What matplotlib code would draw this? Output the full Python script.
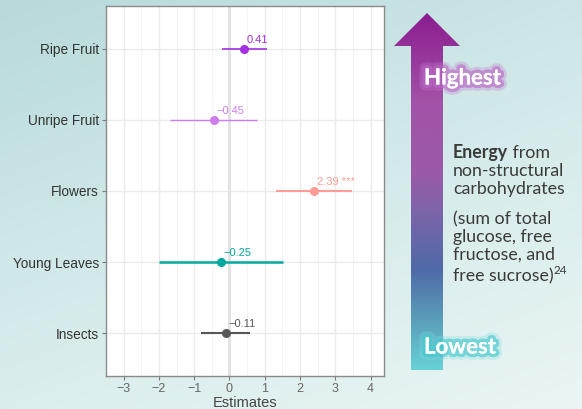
import numpy as np
import matplotlib.pyplot as plt
from matplotlib.colors import LinearSegmentedColormap
from matplotlib.patches import Polygon
import matplotlib.patheffects as pe

categories = ["Insects", "Young Leaves", "Flowers", "Unripe Fruit", "Ripe Fruit"]
estimates = [-0.11, -0.25, 2.39, -0.45, 0.41]
ci_low = [-0.80, -2.00, 1.32, -1.69, -0.22]
ci_high = [0.58, 1.51, 3.47, 0.77, 1.05]
value_labels = ["\u22120.11", "\u22120.25", "2.39 ***", "\u22120.45", "0.41"]
colors = ["#575757", "#00a99d", "#ff9c96", "#cc7ef0", "#a32fe0"]
line_widths = [1.5, 1.8, 1.5, 1.0, 1.2]
xticks = [-3, -2, -1, 0, 1, 2, 3, 4]

W, H = 582, 409
fig = plt.figure(figsize=(W / 100, H / 100), dpi=100)

# background with gradient
bg = fig.add_axes([0, 0, 1, 1], zorder=-1)
bg.set_xlim(0, W)
bg.set_ylim(H, 0)
bg.axis("off")
yy, xx = np.mgrid[0:1:200j, 0:1:200j]
grad = 0.65 * yy + 0.35 * xx
bg_cmap = LinearSegmentedColormap.from_list("bg", ["#b8dada", "#d4eaea", "#ebf5f5"])
bg.imshow(grad, cmap=bg_cmap, extent=[0, W, H, 0], aspect="auto")

# arrow
arrow_pts = [(411, 370), (411, 46), (394, 46), (427, 13), (460, 46), (443, 46), (443, 370)]
arrow = Polygon(arrow_pts, closed=True, facecolor="none", edgecolor="none")
bg.add_patch(arrow)
arrow_cmap = LinearSegmentedColormap.from_list(
    "arrow",
    [(0.0, "#8a1d8f"), (0.25, "#a352a8"), (0.45, "#9a5aa8"), (0.55, "#7e64a8"),
     (0.72, "#4f6aa8"), (0.85, "#5a9ab8"), (1.0, "#66d2d6")])
ag = np.linspace(0, 1, 256).reshape(-1, 1)
im = bg.imshow(ag, cmap=arrow_cmap, extent=[394, 460, 370, 13], aspect="auto")
im.set_clip_path(arrow)

glow_p = [pe.withStroke(linewidth=9, foreground="#c57ad0", alpha=0.3),
          pe.withStroke(linewidth=5, foreground="#b868c4", alpha=0.6), pe.Normal()]
glow_t = [pe.withStroke(linewidth=9, foreground="#7fdde0", alpha=0.3),
          pe.withStroke(linewidth=5, foreground="#40c8cc", alpha=0.6), pe.Normal()]
bg.text(424, 78, "Highest", color="white", fontsize=16, fontweight="bold",
        family="Lato", ha="left", va="center", path_effects=glow_p)
bg.text(424, 347, "Lowest", color="white", fontsize=16, fontweight="bold",
        family="Lato", ha="left", va="center", path_effects=glow_t)

tc = "#3a3a3a"
fs = 12.8
t = bg.text(453, 158, "Energy", color=tc, fontsize=fs, fontweight="bold",
            family="Lato", va="baseline")
bg.annotate(" from", xy=(1, 158), xycoords=(t, "data"), color=tc, fontsize=fs,
            family="Lato", va="baseline")
lines = [(176, "non-structural"), (194, "carbohydrates"), (224, "(sum of total"),
         (242, "glucose, free"), (260, "fructose, and")]
for y, s in lines:
    bg.text(453, y, s, color=tc, fontsize=fs, family="Lato", va="baseline")
t2 = bg.text(453, 281, "free sucrose)", color=tc, fontsize=fs, family="Lato",
             va="baseline")
bg.annotate("24", xy=(1, 274), xycoords=(t2, "data"), color=tc, fontsize=8.5,
            family="Lato", va="baseline")

# forest plot
ax = fig.add_axes([106 / W, 1 - 376 / H, 278 / W, 370 / H])
ax.set_facecolor("white")
ypos = np.arange(1, len(categories) + 1)
ax.axvline(0, color="#e3e3e3", lw=2.2, zorder=1)
for i in range(len(categories)):
    ax.plot([ci_low[i], ci_high[i]], [ypos[i], ypos[i]], color=colors[i],
            lw=line_widths[i], zorder=3, solid_capstyle="butt")
    ax.plot(estimates[i], ypos[i], "o", color=colors[i], ms=5.5, zorder=4)
    ax.annotate(value_labels[i], xy=(estimates[i], ypos[i]), xytext=(2, 2.8),
                textcoords="offset points", color=colors[i], fontsize=8,
                family="Liberation Sans", ha="left", va="bottom", zorder=5)

ax.set_xlim(-3.34, 4.38)
ax.set_ylim(0.4, 5.6)
ax.set_xticks(xticks)
ax.set_xticklabels([str(v).replace("-", "\u2212") for v in xticks],
                   family="Liberation Sans", fontsize=9, color="#666666")
ax.set_xticks(np.arange(-3.5, 4.5, 1), minor=True)
ax.set_yticks(ypos)
ax.set_yticklabels(categories, family="Liberation Sans", fontsize=9.8, color="#333333")
ax.grid(which="major", color="#ebebeb", lw=1.0, zorder=0)
ax.grid(which="minor", axis="x", color="#f3f3f3", lw=0.6, zorder=0)
ax.set_axisbelow(True)
ax.tick_params(axis="both", which="major", length=3, color="#7a7a7a", width=0.8, pad=2)
ax.tick_params(which="minor", length=0)
for s in ax.spines.values():
    s.set_color("#8a8a8a")
    s.set_linewidth(1.0)
ax.set_xlabel("Estimates", family="Liberation Sans", fontsize=10.5, color="#444444", labelpad=1)

fig.savefig("out.png", dpi=100)
